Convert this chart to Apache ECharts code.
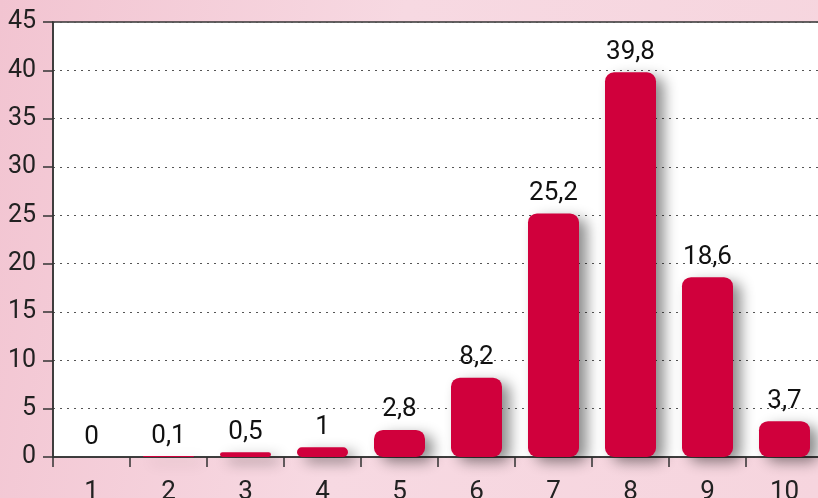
<!DOCTYPE html>
<html>
<head>
<meta charset="utf-8">
<script src="https://cdn.jsdelivr.net/npm/echarts@6/dist/echarts.min.js"></script>
<style>
  html, body { margin: 0; padding: 0; }
  body {
    width: 818px; height: 498px; overflow: hidden;
    background: linear-gradient(100deg, #f2c4d1 0%, #f7d9e2 45%, #f6d5de 100%);
  }
  #chart { width: 818px; height: 498px; }
</style>
</head>
<body>
<div id="chart"></div>
<script>
const categories = ['1', '2', '3', '4', '5', '6', '7', '8', '9', '10']
const values = [0, 0.1, 0.5, 1, 2.8, 8.2, 25.2, 39.8, 18.6, 3.7]
const yMax = 45
const yStep = 5

const chart = echarts.init(document.getElementById('chart'))
const font = 'Roboto, "DejaVu Sans", sans-serif'

chart.setOption({
  animation: false,
  grid: {
    left: 53, top: 22, width: 770, height: 435,
    outerBoundsMode: 'none', containLabel: false,
    show: true, backgroundColor: '#fff', borderColor: '#333', borderWidth: 1.5
  },
  xAxis: {
    type: 'category',
    data: categories,
    axisLine: { lineStyle: { color: '#333', width: 1.5 } },
    axisTick: { show: true, length: 10, lineStyle: { color: '#333', width: 1.5 } },
    axisLabel: { color: '#222', fontSize: 26, fontFamily: font, margin: 22 }
  },
  yAxis: {
    type: 'value',
    min: 0, max: yMax, interval: yStep,
    axisLine: { show: true, lineStyle: { color: '#333', width: 1.5 } },
    axisTick: { show: true, length: 10, lineStyle: { color: '#333', width: 1.5 } },
    axisLabel: { color: '#222', fontSize: 25, fontFamily: font, margin: 17 },
    splitLine: { lineStyle: { color: '#555', type: [2, 5], width: 1.2 } }
  },
  series: [{
    type: 'bar',
    data: values,
    barWidth: 51,
    itemStyle: {
      color: '#d0003c',
      borderRadius: 9,
      shadowColor: 'rgba(0,0,0,0.45)',
      shadowBlur: 14,
      shadowOffsetX: 8,
      shadowOffsetY: 5
    },
    label: {
      show: true,
      position: 'top',
      distance: 7,
      color: '#111',
      fontSize: 26,
      fontFamily: font,
      formatter: p => String(p.value).replace('.', ',')
    }
  }]
})
</script>
</body>
</html>
